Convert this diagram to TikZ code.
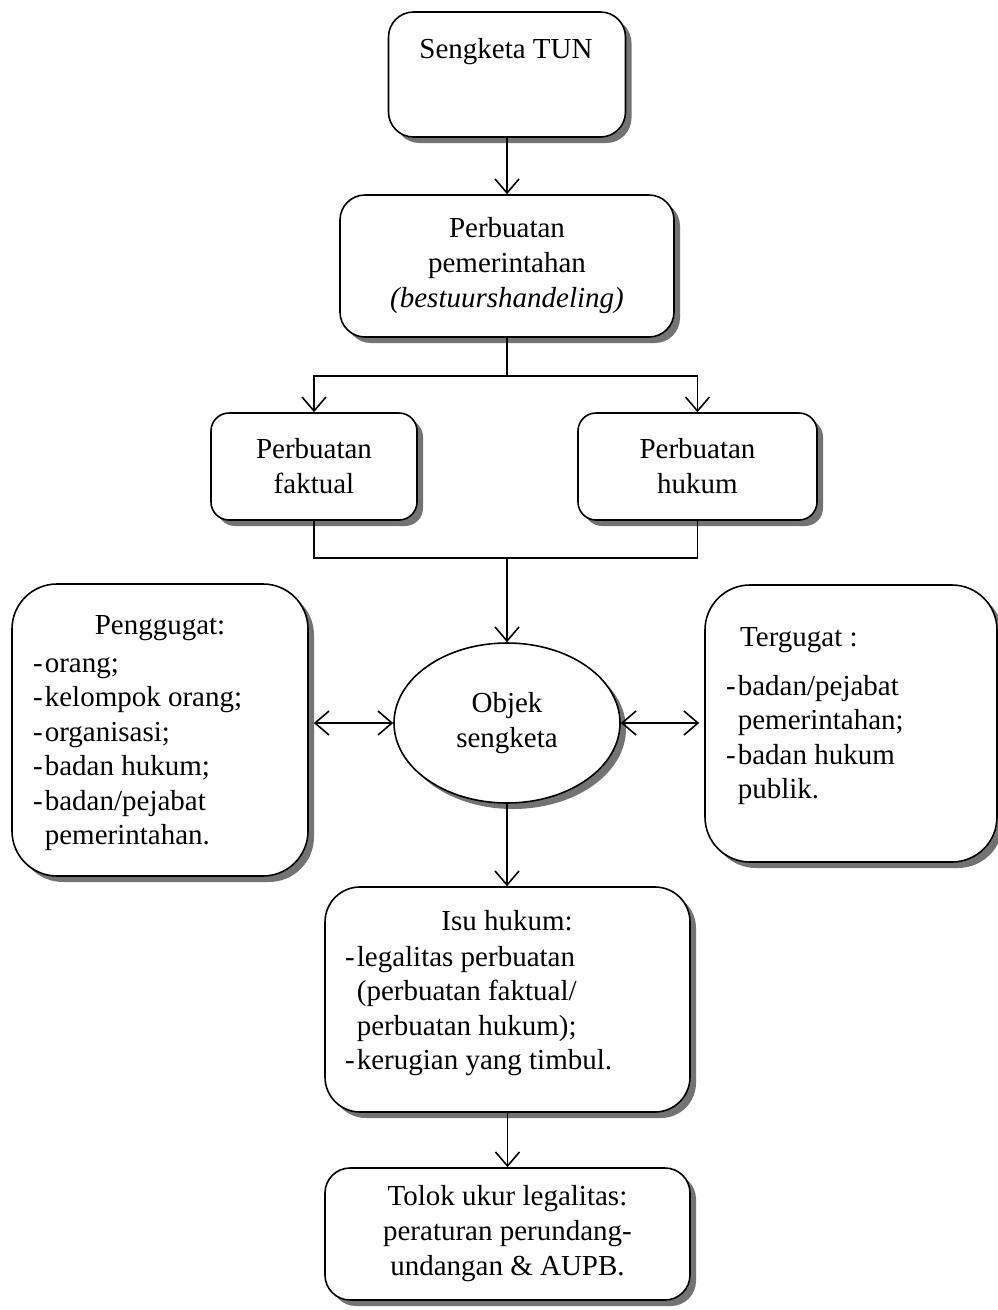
\documentclass[tikz,border=0pt]{standalone}
\usepackage{fontspec}
\setmainfont{Liberation Serif}
\usepackage{tikz}
\usetikzlibrary{arrows.meta,shapes.geometric,shadows}
\tikzset{
  shade/.style={drop shadow={shadow xshift=6pt, shadow yshift=-6pt, fill=black!55, opacity=1}},
  box/.style={draw=black, line width=1.6pt, fill=white, rounded corners=#1, shade, inner sep=0pt},
  box/.default=25pt,
  oval/.style={ellipse, draw=black, line width=1.6pt, fill=white, shade, inner sep=0pt, align=center,
    font=\fontsize{29}{35}\selectfont},
  txt/.style={inner sep=0pt, align=center, font=\fontsize{29}{35}\selectfont},
  lst/.style={inner sep=0pt, align=left, anchor=west, font=\fontsize{29}{34.5}\selectfont},
  line/.style={draw=black, line width=1.6pt},
  arr/.style={line, -{Straight Barb[length=14pt,width=24pt,line width=1.6pt]}},
  arrs/.style={line, {Straight Barb[length=14pt,width=24pt,line width=1.6pt]}-{Straight Barb[length=14pt,width=24pt,line width=1.6pt]}},
}
\newcommand{\itm}{-\hspace{2pt}}
\newcommand{\ind}{\phantom{-}\hspace{2pt}}
\begin{document}
\begin{tikzpicture}[x=1pt,y=-1pt]
  \useasboundingbox (0,0) rectangle (998,1310);

  % boxes
  \node[box, minimum width=237pt, minimum height=125pt] (tun) at (507,74.5) {};
  \node[txt] (tun-t) at (506,52) {Sengketa TUN};

  \node[box, minimum width=334pt, minimum height=142pt, txt] (pem) at (507,266)
    {Perbuatan\\pemerintahan\\\textit{(bestuurshandeling)}};

  \node[box=18pt, minimum width=206pt, minimum height=107pt, txt] (fak) at (314,466.5)
    {Perbuatan\\faktual};
  \node[box=18pt, minimum width=239pt, minimum height=107pt, txt] (huk) at (697.5,466.5)
    {Perbuatan\\hukum};

  \node[oval, minimum width=226pt, minimum height=160pt] (obj) at (507,723) {Objek\\sengketa};

  \node[box=45pt, minimum width=296pt, minimum height=292pt] (pgg) at (160,730) {};
  \node[txt] (pgg-h) at (160,628) {Penggugat:};
  \node[lst] (pgg-l) at (33,754) {\itm orang;\\\itm kelompok orang;\\\itm organisasi;\\\itm badan hukum;\\\itm badan/pejabat\\\ind pemerintahan.};

  \node[box=45pt, minimum width=292pt, minimum height=277pt] (tgg) at (851,723.5) {};
  \node[lst] (tgg-h) at (740,640) {Tergugat :};
  \node[lst] (tgg-l) at (726,740) {\itm badan/pejabat\\\ind pemerintahan;\\\itm badan hukum\\\ind publik.};

  \node[box=35pt, minimum width=365pt, minimum height=225pt] (isu) at (507.5,999.5) {};
  \node[txt] (isu-h) at (507,921) {Isu hukum:};
  \node[lst] (isu-l) at (345,1011) {\itm legalitas perbuatan\\\ind(perbuatan faktual/\\\ind perbuatan hukum);\\\itm kerugian yang timbul.};

  \node[box, minimum width=365pt, minimum height=132pt, txt] (tol) at (507.5,1234)
    {Tolok ukur legalitas:\\peraturan perundang-\\undangan \& AUPB.};

  % connectors
  \coordinate (j1) at (507,376);
  \coordinate (j2) at (507,558);
  \draw[arr] (tun) -- (pem);
  \draw[line] (pem.south) -- (j1);
  \draw[arr] (j1) -| (fak.north);
  \draw[arr] (j1) -| (huk.north);
  \draw[line] (fak.south) |- (j2) -| (huk.south);
  \draw[arr] (j2) -- (obj.north);
  \draw[arrs, shorten <=5pt] (pgg.east |- obj.west) -- (obj.west);
  \draw[arrs, shorten >=5pt] (obj.east) -- (tgg.west |- obj.east);
  \draw[arr] (obj.south) -- (obj.south |- isu.north);
  \draw[arr] (isu.south -| tol.north) -- (tol.north);
\end{tikzpicture}
\end{document}
